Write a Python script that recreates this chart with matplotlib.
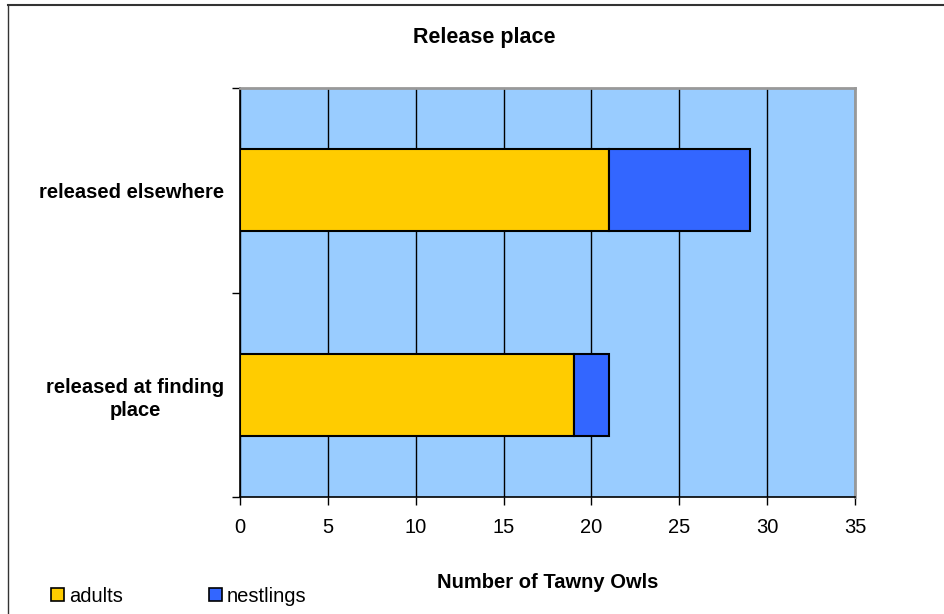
import matplotlib
matplotlib.use("Agg")
import matplotlib.pyplot as plt
from matplotlib.lines import Line2D
from matplotlib.patches import Patch

categories = ["released at finding\nplace", "released elsewhere"]
adults = [19, 21]
nestlings = [2, 8]
x_ticks = [0, 5, 10, 15, 20, 25, 30, 35]

plt.rcParams["font.family"] = ["Liberation Sans", "DejaVu Sans"]
FS = 14.5

fig = plt.figure(figsize=(9.45, 6.14), dpi=100)
ax = fig.add_axes([240 / 945, 1 - 497 / 614, 615 / 945, 409 / 614])

ax.set_facecolor("#99CCFF")
ypos = list(range(len(categories)))
ax.barh(ypos, adults, height=0.4, color="#FFCC00", edgecolor="black",
        linewidth=1.5, label="adults", zorder=3)
ax.barh(ypos, nestlings, left=adults, height=0.4, color="#3366FF",
        edgecolor="black", linewidth=1.5, label="nestlings", zorder=3)

ax.set_xlim(0, 35)
ax.set_ylim(-0.5, len(categories) - 0.5)
ax.set_xticks(x_ticks)
ax.set_xticklabels([str(t) for t in x_ticks], fontsize=FS)
ax.xaxis.grid(True, color="black", linewidth=1.0, zorder=1)
ax.set_axisbelow(True)

# category boundaries as major ticks, names as unticked minor labels
ax.set_yticks([i - 0.5 for i in range(len(categories) + 1)])
ax.set_yticklabels([])
ax.set_yticks(ypos, minor=True)
ax.set_yticklabels(categories, minor=True, fontsize=FS, fontweight="bold",
                   ha="right", multialignment="center", linespacing=1.3)
ax.tick_params(axis="y", which="minor", length=0, pad=11.5)
ax.tick_params(axis="y", which="major", length=6, width=1, direction="out")
ax.tick_params(axis="x", length=6, width=1, direction="out", pad=9)

for side in ("left", "bottom"):
    ax.spines[side].set_color("black")
    ax.spines[side].set_linewidth(1.2)
for side in ("top", "right"):
    ax.spines[side].set_color("#999999")
    ax.spines[side].set_linewidth(2.0)

ax.set_xlabel("Number of Tawny Owls", fontsize=FS, fontweight="bold")
ax.xaxis.set_label_coords(0.5, (497 - 583) / 409)
ax.xaxis.label.set_va("center")

fig.text(484 / 945, 1 - 37 / 614, "Release place", fontsize=15.5,
         fontweight="bold", ha="center", va="center")

# outer chart frame
fig.add_artist(Line2D([8 / 945, 1.0], [1 - 5 / 614, 1 - 5 / 614],
                      color="#333333", linewidth=1.5))
fig.add_artist(Line2D([8 / 945, 8 / 945], [0.0, 1 - 5 / 614],
                      color="#333333", linewidth=1.0))

handles = [Patch(facecolor="#FFCC00", edgecolor="black", linewidth=1.2),
           Patch(facecolor="#3366FF", edgecolor="black", linewidth=1.2)]
fig.legend(handles, ["adults", "nestlings"], loc="center left",
           bbox_to_anchor=(51 / 945, 1 - 596 / 614), ncol=2, frameon=False,
           fontsize=FS, handlelength=0.65, handleheight=0.65,
           handletextpad=0.25, columnspacing=4.25, borderpad=0,
           borderaxespad=0)

fig.savefig("out.png", dpi=100)
